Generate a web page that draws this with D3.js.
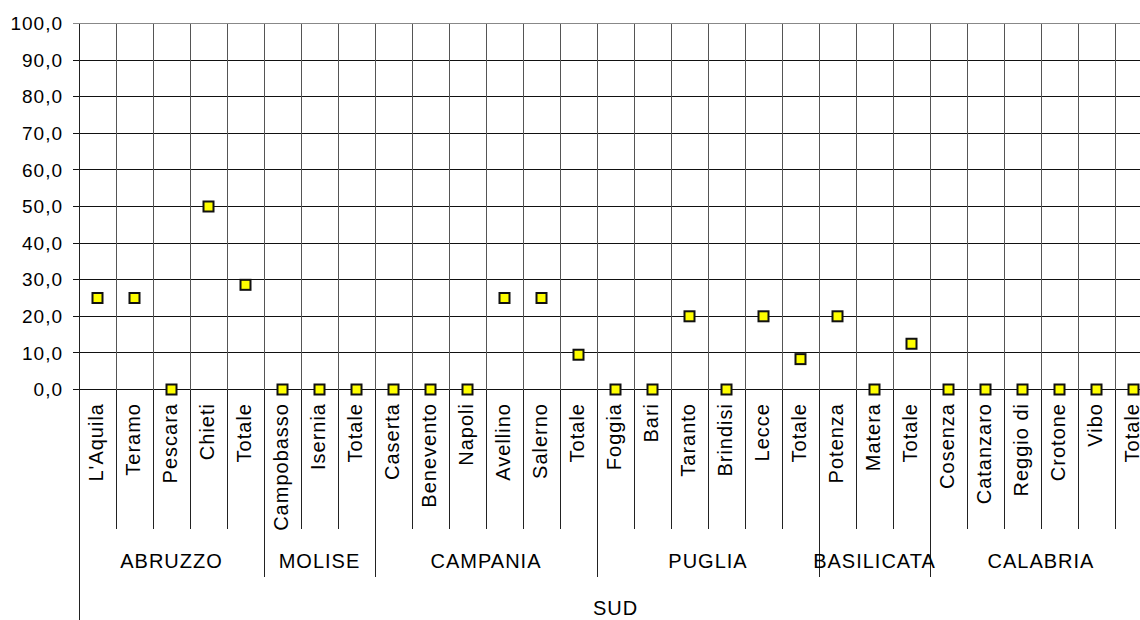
<!doctype html>
<html lang="en">
<head>
    <meta charset="utf-8">
    <title>SUD</title>
    <script src="https://cdn.jsdelivr.net/npm/d3@7"></script>
    <style>
        body { margin: 0; background: #fff; }
        text { font-family: "Liberation Sans", Arial, sans-serif; fill: #000; letter-spacing: 1px; }
    </style>
</head>
<body>
<script>
    // chart data
    var categories = ["L'Aquila", "Teramo", "Pescara", "Chieti", "Totale",
        "Campobasso", "Isernia", "Totale",
        "Caserta", "Benevento", "Napoli", "Avellino", "Salerno", "Totale",
        "Foggia", "Bari", "Taranto", "Brindisi", "Lecce", "Totale",
        "Potenza", "Matera", "Totale",
        "Cosenza", "Catanzaro", "Reggio di", "Crotone", "Vibo", "Totale"];
    var values = [25, 25, 0, 50, 28.6,
        0, 0, 0,
        0, 0, 0, 25, 25, 9.5,
        0, 0, 20, 0, 20, 8.3,
        20, 0, 12.5,
        0, 0, 0, 0, 0, 0];
    var regions = ["ABRUZZO", "MOLISE", "CAMPANIA", "PUGLIA", "BASILICATA", "CALABRIA"];
    var regionSizes = [5, 3, 6, 6, 3, 6];
    var area = "SUD";
    var yTicks = [0, 10, 20, 30, 40, 50, 60, 70, 80, 90, 100];

    var width = 1140, height = 620;
    var plotLeft = 79, plotRight = 1152, plotTop = 23.5, plotBottom = 389.5;

    var svg = d3.select("body").append("svg")
        .attr("width", width)
        .attr("height", height);

    var idx = d3.range(categories.length);
    var x = d3.scaleBand().domain(idx).range([plotLeft, plotRight]).padding(0);
    var y = d3.scaleLinear().domain([0, 100]).range([plotBottom, plotTop]);
    var fmt = function(d) { return d3.format(".1f")(d).replace(".", ","); };

    // region start/end indices
    var bounds = [0];
    regionSizes.forEach(function(s, i) { bounds.push(bounds[i] + s); });

    // horizontal gridlines + y axis ticks
    svg.append("g").selectAll("line")
        .data(yTicks)
        .enter().append("line")
        .attr("x1", plotLeft - 6)
        .attr("x2", width)
        .attr("y1", function(d) { return y(d); })
        .attr("y2", function(d) { return y(d); })
        .attr("stroke", function(d) { return d === 100 ? "#888" : "#111"; })
        .attr("stroke-width", 1)
        .attr("shape-rendering", "crispEdges");

    svg.append("g").selectAll("text")
        .data(yTicks)
        .enter().append("text")
        .attr("x", 63)
        .attr("y", function(d) { return y(d); })
        .attr("dy", "0.35em")
        .attr("text-anchor", "end")
        .attr("font-size", "19px")
        .text(fmt);

    // vertical gridlines in plot
    svg.append("g").selectAll("line")
        .data(d3.range(1, categories.length))
        .enter().append("line")
        .attr("x1", function(i) { return x(i) + 0.5; })
        .attr("x2", function(i) { return x(i) + 0.5; })
        .attr("y1", plotTop)
        .attr("y2", plotBottom)
        .attr("stroke", "#555")
        .attr("shape-rendering", "crispEdges");

    // category tick lines below axis (longer at region boundaries)
    svg.append("g").selectAll("line")
        .data(d3.range(1, categories.length))
        .enter().append("line")
        .attr("x1", function(i) { return x(i) + 0.5; })
        .attr("x2", function(i) { return x(i) + 0.5; })
        .attr("y1", plotBottom)
        .attr("y2", function(i) { return bounds.indexOf(i) >= 0 ? 577 : 529; })
        .attr("stroke", "#222")
        .attr("shape-rendering", "crispEdges");

    // y axis line
    svg.append("line")
        .attr("x1", plotLeft + 0.5).attr("x2", plotLeft + 0.5)
        .attr("y1", plotTop).attr("y2", height)
        .attr("stroke", "#222")
        .attr("shape-rendering", "crispEdges");

    // category labels
    svg.append("g").selectAll("text")
        .data(idx)
        .enter().append("text")
        .attr("transform", function(i) {
            return "translate(" + (x(i) + x.bandwidth() / 2 + 5) + ",403) rotate(-90)";
        })
        .attr("text-anchor", "end")
        .attr("font-size", "20px")
        .text(function(i) { return categories[i]; });

    // region labels
    svg.append("g").selectAll("text")
        .data(regions)
        .enter().append("text")
        .attr("x", function(d, i) {
            return (x(bounds[i]) + x(bounds[i + 1] - 1) + x.bandwidth()) / 2;
        })
        .attr("y", 568)
        .attr("text-anchor", "middle")
        .attr("font-size", "20px")
        .text(function(d) { return d; });

    svg.append("text")
        .attr("x", (plotLeft + plotRight) / 2)
        .attr("y", 615)
        .attr("text-anchor", "middle")
        .attr("font-size", "20px")
        .text(area);

    // markers
    svg.append("g").selectAll("rect")
        .data(idx)
        .enter().append("rect")
        .attr("x", function(i) { return x(i) + x.bandwidth() / 2 - 5; })
        .attr("y", function(i) { return y(values[i]) - 5; })
        .attr("width", 10)
        .attr("height", 10)
        .attr("fill", "#ffff00")
        .attr("stroke", "#111")
        .attr("stroke-width", 2);
</script>
</body>
</html>
